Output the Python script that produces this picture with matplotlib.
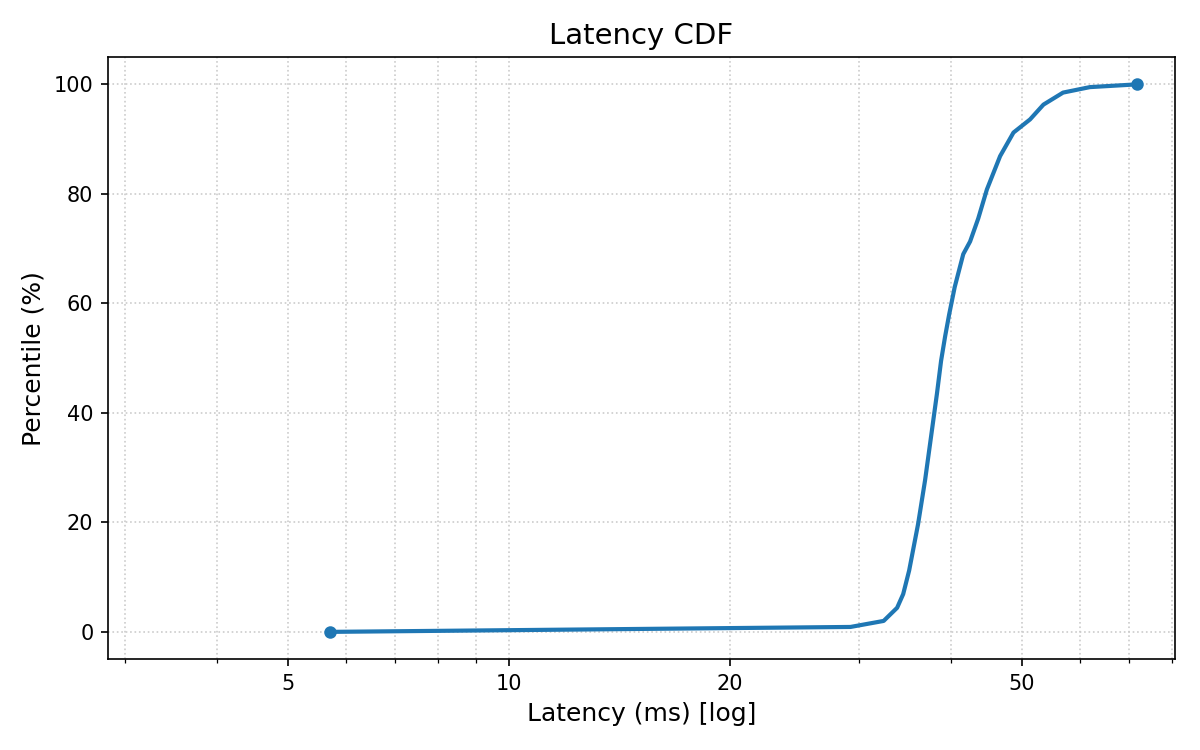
import matplotlib
matplotlib.use("Agg")
import matplotlib.pyplot as plt
from matplotlib.ticker import ScalarFormatter, NullFormatter, FixedLocator

latency_ms = [5.7, 29.2, 32.4, 33.8, 34.45, 35.1, 36.1, 36.9, 37.7, 38.3, 38.8,
              39.3, 39.8, 40.5, 41.6, 42.5, 43.6, 44.8, 46.7, 48.7, 51.3, 53.5,
              56.9, 61.9, 71.7]
percentile = [0.0, 0.9, 2.0, 4.4, 6.9, 11.2, 19.7, 27.7, 36.8, 43.5, 49.5,
              54.0, 58.0, 63.0, 69.0, 71.3, 75.5, 80.8, 86.9, 91.2, 93.6, 96.3,
              98.5, 99.5, 100.0]
xtick_values = [5, 10, 20, 50]

fig, ax = plt.subplots(figsize=(8, 5), dpi=150)
fig.subplots_adjust(left=0.09, right=0.979, top=0.924, bottom=0.121)

color = "#1f77b4"
ax.plot(latency_ms, percentile, color=color, linewidth=2.0)
ax.plot([latency_ms[0], latency_ms[-1]], [percentile[0], percentile[-1]],
        "o", color=color, markersize=5)

ax.set_xscale("log")
ax.set_xlim(2.84, 80.8)
ax.set_ylim(-5, 105)
ax.xaxis.set_major_locator(FixedLocator(xtick_values))
ax.xaxis.set_major_formatter(ScalarFormatter())
ax.xaxis.set_minor_formatter(NullFormatter())

ax.grid(which="both", linestyle=":", color="#cccccc", linewidth=0.8)
ax.set_axisbelow(True)

ax.set_title("Latency CDF", fontsize=14)
ax.set_xlabel("Latency (ms) [log]", fontsize=12)
ax.set_ylabel("Percentile (%)", fontsize=12)

fig.savefig("out.png", dpi=150)
